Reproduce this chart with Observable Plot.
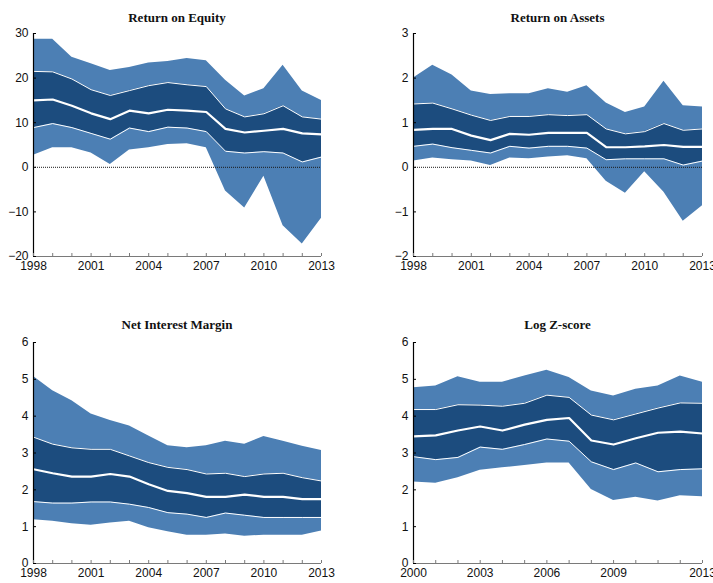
<!DOCTYPE html>
<html>
<head>
<meta charset="utf-8">
<script src="https://cdn.jsdelivr.net/npm/d3@7"></script>
<script src="https://cdn.jsdelivr.net/npm/@observablehq/plot@0.6"></script>
<style>
  html, body { margin: 0; padding: 0; background: #fff; width: 713px; height: 583px; overflow: hidden; }
  #root { position: relative; width: 713px; height: 583px; }
  .panel { position: absolute; }
  .title { position: absolute; text-align: center; font-family: "Liberation Serif", "Times New Roman", serif; font-weight: bold; font-size: 13px; line-height: 16px; color: #111; }
</style>
</head>
<body>
<div id="root"></div>
<script>
// ---------- Data ----------
const yearsA = [1998, 1999, 2000, 2001, 2002, 2003, 2004, 2005, 2006, 2007, 2008, 2009, 2010, 2011, 2012, 2013];
const yearsZ = [2000, 2001, 2002, 2003, 2004, 2005, 2006, 2007, 2008, 2009, 2010, 2011, 2012, 2013];

// Return on Equity
const roeP95 = [28.7, 28.7, 24.7, 23.2, 21.7, 22.4, 23.4, 23.7, 24.4, 23.9, 19.5, 16.0, 17.6, 22.9, 17.1, 15.0];
const roeP75 = [21.5, 21.4, 19.8, 17.4, 16.1, 17.2, 18.3, 19.0, 18.5, 18.1, 13.1, 11.3, 12.0, 13.8, 11.3, 10.8];
const roeP50 = [15.0, 15.2, 13.8, 12.1, 10.8, 12.7, 12.1, 12.9, 12.7, 12.4, 8.6, 7.8, 8.2, 8.6, 7.6, 7.4];
const roeP25 = [8.9, 9.8, 8.9, 7.6, 6.3, 8.8, 8.0, 9.0, 8.8, 8.0, 3.6, 3.2, 3.5, 3.2, 1.2, 2.3];
const roeP5  = [2.7, 4.4, 4.4, 3.2, 0.6, 3.9, 4.4, 5.1, 5.3, 4.4, -5.3, -9.1, -2.0, -13.1, -17.2, -11.4];

// Return on Assets
const roaP95 = [2.00, 2.29, 2.07, 1.71, 1.63, 1.65, 1.65, 1.76, 1.68, 1.83, 1.44, 1.23, 1.35, 1.93, 1.38, 1.35];
const roaP75 = [1.42, 1.44, 1.31, 1.17, 1.05, 1.14, 1.14, 1.18, 1.16, 1.18, 0.86, 0.75, 0.80, 0.98, 0.83, 0.86];
const roaP50 = [0.84, 0.86, 0.86, 0.71, 0.61, 0.75, 0.73, 0.77, 0.77, 0.77, 0.45, 0.45, 0.47, 0.50, 0.46, 0.46];
const roaP25 = [0.47, 0.52, 0.44, 0.38, 0.32, 0.47, 0.43, 0.47, 0.47, 0.43, 0.17, 0.19, 0.19, 0.19, 0.05, 0.14];
const roaP5  = [0.14, 0.21, 0.17, 0.14, 0.04, 0.21, 0.19, 0.23, 0.26, 0.19, -0.31, -0.58, -0.10, -0.56, -1.21, -0.86];

// Net Interest Margin
const nimP95 = [5.08, 4.69, 4.42, 4.06, 3.88, 3.73, 3.46, 3.20, 3.14, 3.20, 3.32, 3.24, 3.45, 3.32, 3.18, 3.07];
const nimP75 = [3.43, 3.24, 3.14, 3.10, 3.10, 2.92, 2.74, 2.61, 2.55, 2.43, 2.45, 2.36, 2.43, 2.45, 2.33, 2.24];
const nimP50 = [2.56, 2.45, 2.36, 2.36, 2.43, 2.36, 2.15, 1.97, 1.91, 1.81, 1.81, 1.87, 1.81, 1.81, 1.75, 1.75];
const nimP25 = [1.68, 1.64, 1.64, 1.67, 1.67, 1.61, 1.52, 1.38, 1.34, 1.25, 1.37, 1.31, 1.25, 1.25, 1.25, 1.25];
const nimP5  = [1.19, 1.15, 1.08, 1.04, 1.10, 1.15, 0.97, 0.86, 0.77, 0.77, 0.80, 0.74, 0.77, 0.77, 0.77, 0.88];

// Log Z-score
const zP95 = [4.77, 4.82, 5.07, 4.92, 4.92, 5.09, 5.25, 5.05, 4.68, 4.55, 4.73, 4.82, 5.09, 4.92];
const zP75 = [4.18, 4.18, 4.31, 4.30, 4.27, 4.35, 4.57, 4.51, 4.03, 3.90, 4.06, 4.22, 4.36, 4.35];
const zP50 = [3.45, 3.48, 3.61, 3.72, 3.61, 3.77, 3.90, 3.95, 3.34, 3.23, 3.40, 3.55, 3.58, 3.53];
const zP25 = [2.90, 2.82, 2.88, 3.16, 3.10, 3.23, 3.38, 3.32, 2.76, 2.55, 2.73, 2.49, 2.55, 2.57];
const zP5  = [2.21, 2.18, 2.33, 2.53, 2.60, 2.66, 2.73, 2.73, 2.01, 1.71, 1.80, 1.70, 1.84, 1.81];

// Tick labels
const xLabelsA = [1998, 2001, 2004, 2007, 2010, 2013];
const xLabelsZ = [2000, 2003, 2006, 2009, 2013];
const yTicksRoe = [-20, -10, 0, 10, 20, 30];
const yTicksRoa = [-2, -1, 0, 1, 2, 3];
const yTicks06 = [0, 1, 2, 3, 4, 5, 6];

const titles = ["Return on Equity", "Return on Assets", "Net Interest Margin", "Log Z-score"];

// ---------- Drawing ----------
const LIGHT = "#4c7fb4";
const DARK = "#1c4c7e";

function rows(years, p5, p25, p50, p75, p95) {
  return years.map((year, i) => ({year, p5: p5[i], p25: p25[i], p50: p50[i], p75: p75[i], p95: p95[i]}));
}

function panel(cfg) {
  const data = rows(cfg.years, ...cfg.series);
  const marks = [
    Plot.areaY(data, {x: "year", y1: "p5", y2: "p95", fill: LIGHT}),
    Plot.areaY(data, {x: "year", y1: "p25", y2: "p75", fill: DARK}),
    Plot.lineY(data, {x: "year", y: "p25", stroke: "white", strokeWidth: 1}),
    Plot.lineY(data, {x: "year", y: "p75", stroke: "white", strokeWidth: 1}),
    Plot.lineY(data, {x: "year", y: "p50", stroke: "white", strokeWidth: 2.2})
  ];
  if (cfg.zero) marks.push(Plot.ruleY([0], {stroke: "#1a1a1a", strokeWidth: 1, strokeDasharray: "1,1"}));
  marks.push(
    Plot.ruleY([cfg.yDomain[0]], {stroke: "#7a7a7a", strokeWidth: 1.2}),
    Plot.ruleX([cfg.years[0]], {stroke: "#000", strokeWidth: 1.2}),
    Plot.axisX({ticks: cfg.years, tickSize: -3, tickFormat: () => "", stroke: "#7a7a7a", label: null}),
    Plot.axisX({ticks: cfg.xLabels, tickSize: 0, tickPadding: 5, tickFormat: "d", fill: "#111", label: null}),
    Plot.axisY({ticks: cfg.yTicks, tickSize: -3, tickPadding: 8, tickFormat: "d", stroke: "#000", fill: "#111", label: null})
  );
  const chart = Plot.plot({
    width: cfg.w,
    height: cfg.h,
    marginTop: cfg.mt,
    marginBottom: cfg.mb,
    marginLeft: cfg.ml,
    marginRight: cfg.mr,
    x: {domain: [cfg.years[0], cfg.years[cfg.years.length - 1]], axis: null, label: null},
    y: {domain: cfg.yDomain, axis: null, label: null},
    style: {fontSize: "12px", fontFamily: "'Liberation Sans', Arial, sans-serif", background: "transparent", overflow: "visible"},
    marks
  });
  const div = document.createElement("div");
  div.className = "panel";
  div.style.left = cfg.left + "px";
  div.style.top = cfg.top + "px";
  div.style.width = cfg.w + "px";
  div.style.height = cfg.h + "px";
  div.appendChild(chart);
  const t = document.createElement("div");
  t.className = "title";
  t.textContent = cfg.title;
  t.style.left = cfg.ml + "px";
  t.style.width = (cfg.w - cfg.ml - cfg.mr) + "px";
  t.style.top = cfg.titleTop + "px";
  div.appendChild(t);
  document.getElementById("root").appendChild(div);
}

panel({title: titles[0], years: yearsA, series: [roeP5, roeP25, roeP50, roeP75, roeP95],
  yDomain: [-20, 30], yTicks: yTicksRoe, xLabels: xLabelsA, zero: true,
  left: 0, top: 0, w: 356, h: 290, mt: 33, mb: 34, ml: 33, mr: 35, titleTop: 10});
panel({title: titles[1], years: yearsA, series: [roaP5, roaP25, roaP50, roaP75, roaP95],
  yDomain: [-2, 3], yTicks: yTicksRoa, xLabels: xLabelsA, zero: true,
  left: 356, top: 0, w: 357, h: 290, mt: 33, mb: 34, ml: 57, mr: 11, titleTop: 10});
panel({title: titles[2], years: yearsA, series: [nimP5, nimP25, nimP50, nimP75, nimP95],
  yDomain: [0, 6], yTicks: yTicks06, xLabels: xLabelsA, zero: false,
  left: 0, top: 290, w: 356, h: 293, mt: 52, mb: 20, ml: 33, mr: 35, titleTop: 27});
panel({title: titles[3], years: yearsZ, series: [zP5, zP25, zP50, zP75, zP95],
  yDomain: [0, 6], yTicks: yTicks06, xLabels: xLabelsZ, zero: false,
  left: 356, top: 290, w: 357, h: 293, mt: 52, mb: 20, ml: 57, mr: 11, titleTop: 27});
</script>
</body>
</html>
